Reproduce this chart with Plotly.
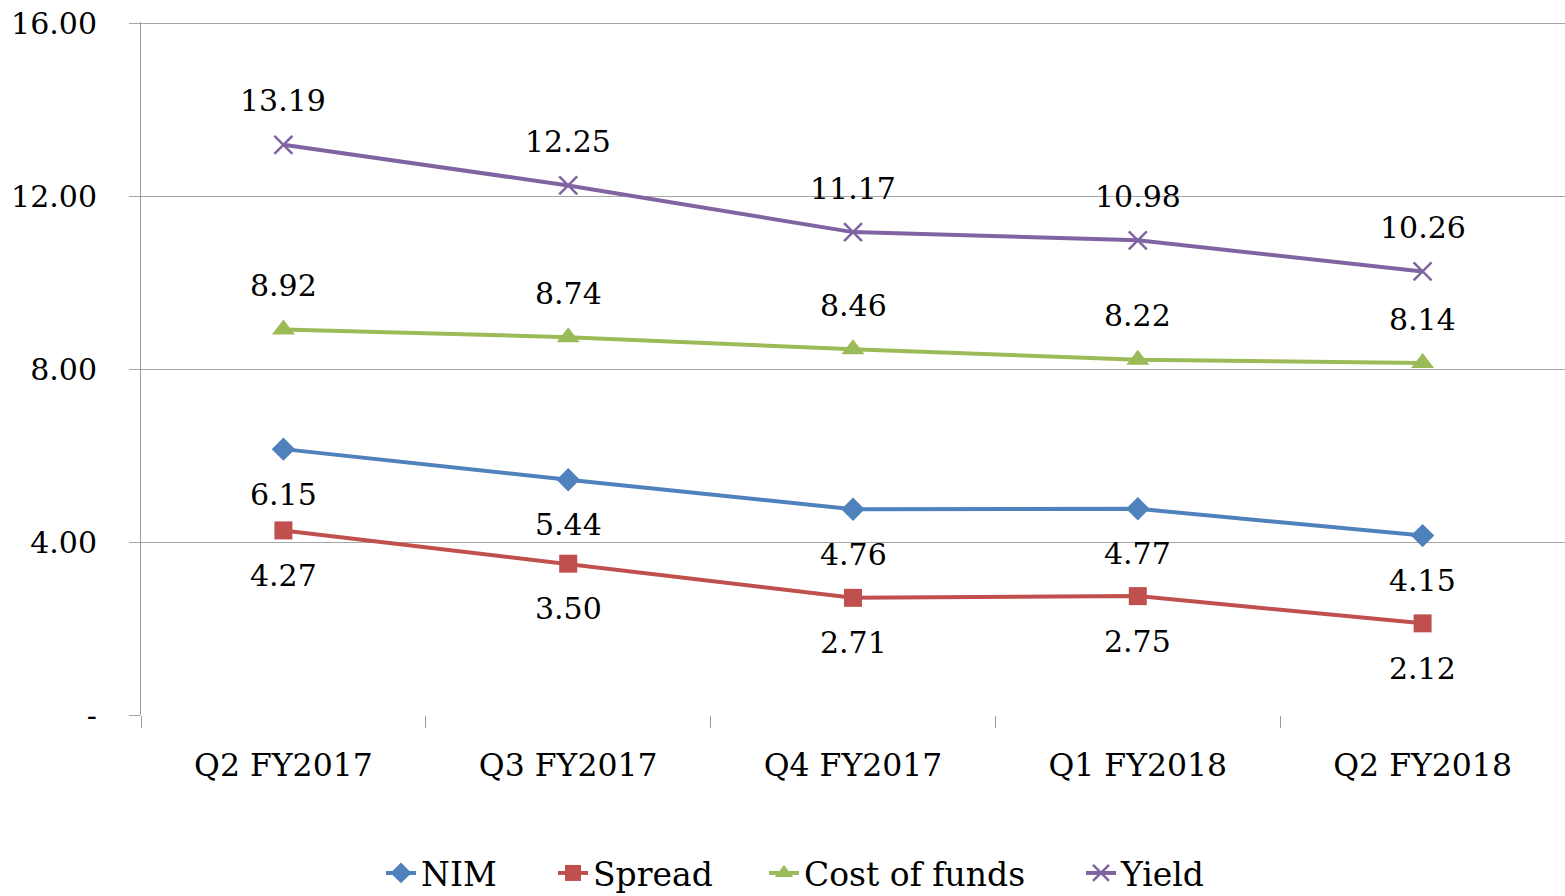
import plotly.graph_objects as go

categories = ["Q2 FY2017", "Q3 FY2017", "Q4 FY2017", "Q1 FY2018", "Q2 FY2018"]
nim = [6.15, 5.44, 4.76, 4.77, 4.15]
spread = [4.27, 3.50, 2.71, 2.75, 2.12]
cost_of_funds = [8.92, 8.74, 8.46, 8.22, 8.14]
yield_ = [13.19, 12.25, 11.17, 10.98, 10.26]
y_tickvals = [0, 4, 8, 12, 16]
y_ticktext = ["-", "4.00", "8.00", "12.00", "16.00"]

FONT = "DejaVu Serif"
W, H = 1565, 896
series = [
    ("NIM", nim, "#4F81BD", dict(symbol="diamond", size=18), -45, "legend", 381),
    ("Spread", spread, "#C0504D", dict(symbol="square", size=18), -45, "legend2", 553),
    ("Cost of funds", cost_of_funds, "#9BBB59", dict(symbol="triangle-up", size=20), 44, "legend3", 764),
    ("Yield", yield_, "#8064A2", dict(symbol="x-thin-open", size=18, line=dict(width=2.5)), 44, "legend4", 1081),
]

fig = go.Figure()
annotations = []
legends = {}
for name, vals, color, marker, shift, leg, lx in series:
    m = dict(marker)
    m["color"] = color
    if "line" in m:
        m["line"]["color"] = color
    fig.add_trace(go.Scatter(
        x=categories, y=vals, name=name, mode="lines+markers",
        line=dict(color=color, width=4), marker=m, legend=leg,
    ))
    legends[leg] = dict(
        orientation="h", xref="container", yref="container",
        x=lx / W, xanchor="left", y=23 / H, yanchor="middle",
        font=dict(family=FONT, size=33, color="black"),
        bgcolor="rgba(0,0,0,0)",
    )
    for c, v in zip(categories, vals):
        annotations.append(dict(
            x=c, y=v, text=f"{v:.2f}", showarrow=False, yshift=shift,
            font=dict(family=FONT, size=30, color="black"),
        ))

fig.update_layout(
    width=W, height=H,
    margin=dict(l=141, r=0, t=22, b=181, autoexpand=False),
    paper_bgcolor="white", plot_bgcolor="white",
    font=dict(family=FONT, size=30, color="black"),
    annotations=annotations,
    showlegend=True,
    xaxis=dict(
        type="category", range=[-0.5, 4.5], automargin=False,
        showgrid=False, tickson="boundaries", ticks="outside",
        ticklen=12, tickcolor="#9a9a9a", tickwidth=1,
        showline=False, zeroline=False,
        tickfont=dict(family=FONT, size=31.5, color="black"),
        ticklabelstandoff=28,
    ),
    yaxis=dict(
        range=[0, 16.03], tickvals=y_tickvals, ticktext=y_ticktext,
        automargin=False,
        showgrid=True, gridcolor="#a6a6a6", gridwidth=1,
        showline=True, linecolor="#9a9a9a", linewidth=1,
        ticks="outside", ticklen=11, tickcolor="#a6a6a6",
        zeroline=False,
        tickfont=dict(family=FONT, size=30, color="black"),
        ticklabelstandoff=26,
    ),
    **legends,
)

# remove the browser's default 8px body margin so the figure fills the window exactly
fig.write_html(
    "out.html",
    config={"displayModeBar": False},
    post_script="document.body.style.margin='0px';document.body.style.overflow='hidden';",
)
